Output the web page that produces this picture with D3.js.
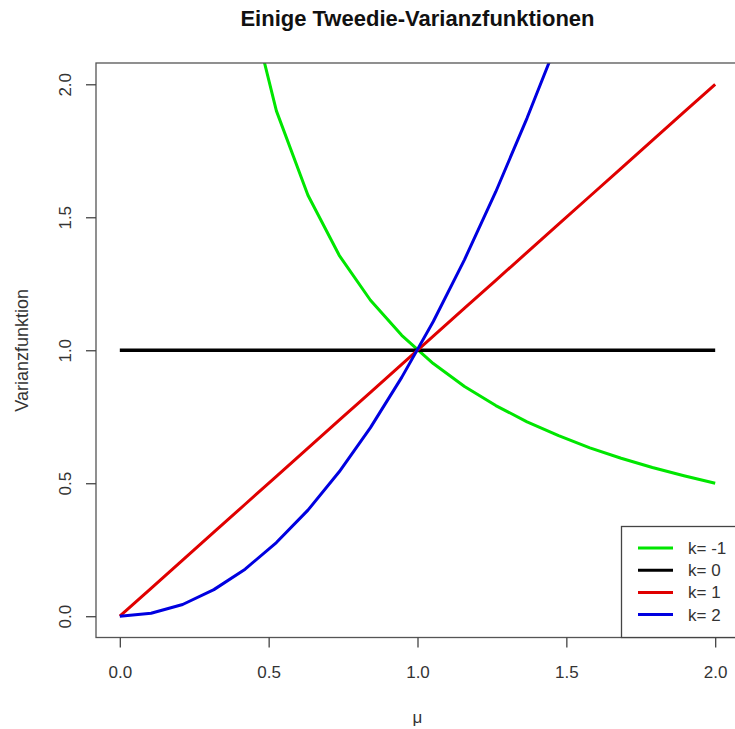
<!DOCTYPE html>
<html><head><meta charset="utf-8">
<script src="https://cdn.jsdelivr.net/npm/d3@7"></script>
<style>body{margin:0;background:#fff}svg{display:block}</style>
</head><body>
<svg id="chart" width="735" height="729"></svg>
<script>
const title = "Einige Tweedie-Varianzfunktionen";
const xLabel = "μ";
const yLabel = "Varianzfunktion";
const xTicks = [0.0, 0.5, 1.0, 1.5, 2.0];
const yTicks = [0.0, 0.5, 1.0, 1.5, 2.0];
const mu = [0, 0.105, 0.211, 0.316, 0.421, 0.526, 0.632, 0.737, 0.842, 0.947, 1.053, 1.158, 1.263, 1.368, 1.474, 1.579, 1.684, 1.789, 1.895, 2.0];
const vKm1 = [null, 9.5, 4.75, 3.167, 2.375, 1.9, 1.583, 1.357, 1.188, 1.056, 0.95, 0.864, 0.792, 0.731, 0.679, 0.633, 0.594, 0.559, 0.528, 0.5];
const vK0 = [1, 1, 1, 1, 1, 1, 1, 1, 1, 1, 1, 1, 1, 1, 1, 1, 1, 1, 1, 1];
const vK1 = [0, 0.105, 0.211, 0.316, 0.421, 0.526, 0.632, 0.737, 0.842, 0.947, 1.053, 1.158, 1.263, 1.368, 1.474, 1.579, 1.684, 1.789, 1.895, 2.0];
const vK2 = [0, 0.011, 0.044, 0.100, 0.177, 0.277, 0.399, 0.543, 0.709, 0.898, 1.108, 1.341, 1.596, 1.873, 2.172, 2.493, 2.837, 3.202, 3.590, 4.0];
const seriesNames = ["k= -1", "k= 0", "k= 1", "k= 2"];
const seriesColors = ["#00e600", "#000000", "#e00000", "#0000e0"];
const seriesValues = [vKm1, vK0, vK1, vK2];

const svg = d3.select("#chart");
const L = 96, R = 739, T = 63, B = 637.5;
const x = d3.scaleLinear().domain([-0.08, 2.08]).range([L, R]);
const y = d3.scaleLinear().domain([-0.08, 2.08]).range([B, T]);
const font = "Liberation Sans, Arial, sans-serif";

svg.append("defs").append("clipPath").attr("id", "clip")
  .append("rect").attr("x", L).attr("y", T).attr("width", R - L).attr("height", B - T);

const line = d3.line().defined(d => d[1] !== null).x(d => x(d[0])).y(d => y(d[1]));
const g = svg.append("g").attr("clip-path", "url(#clip)");
seriesValues.forEach((vals, i) => {
  g.append("path").datum(mu.map((m, j) => [m, vals[j]]))
    .attr("d", line).attr("fill", "none")
    .attr("stroke", seriesColors[i]).attr("stroke-width", i === 1 ? 3.5 : 3)
    .attr("stroke-linejoin", "round");
});

// frame
svg.append("rect").attr("x", L).attr("y", T).attr("width", R - L).attr("height", B - T)
  .attr("fill", "none").attr("stroke", "#555").attr("stroke-width", 1.3);

// x axis
const xa = svg.append("g").attr("transform", `translate(0,${B})`)
  .call(d3.axisBottom(x).tickValues(xTicks).tickFormat(d3.format(".1f")).tickSizeOuter(0).tickSizeInner(10).tickPadding(18));
xa.select(".domain").attr("stroke", "none");
xa.selectAll(".tick line").attr("stroke", "#444").attr("stroke-width", 1.3);
xa.selectAll(".tick text").attr("font-family", font).attr("font-size", 17).attr("fill", "#333");

// y axis
const ya = svg.append("g").attr("transform", `translate(${L},0)`)
  .call(d3.axisLeft(y).tickValues(yTicks).tickFormat(d3.format(".1f")).tickSizeOuter(0).tickSizeInner(10));
ya.select(".domain").attr("stroke", "none");
ya.selectAll(".tick line").attr("stroke", "#444").attr("stroke-width", 1.3);
ya.selectAll(".tick text").attr("font-family", font).attr("font-size", 17).attr("fill", "#333")
  .attr("text-anchor", "middle").attr("x", null)
  .attr("transform", "translate(-31,0) rotate(-90)").attr("dy", "0.35em");

// title & labels
svg.append("text").attr("x", (L + R) / 2).attr("y", 26).attr("text-anchor", "middle")
  .attr("font-family", font).attr("font-weight", "bold").attr("font-size", 22).attr("fill", "#111").text(title);
svg.append("text").attr("x", (L + R) / 2).attr("y", 723).attr("text-anchor", "middle")
  .attr("font-family", font).attr("font-size", 17).attr("fill", "#333").text(xLabel);
svg.append("text").attr("transform", `translate(28,${(T + B) / 2}) rotate(-90)`).attr("text-anchor", "middle")
  .attr("font-family", font).attr("font-size", 18).attr("fill", "#333").text(yLabel);

// legend
const lg = svg.append("g");
lg.append("rect").attr("x", 621.5).attr("y", 526.5).attr("width", 130).attr("height", B - 526.5)
  .attr("fill", "#fff").attr("stroke", "#444").attr("stroke-width", 1.3);
seriesNames.forEach((n, i) => {
  const yy = 548 + i * 22.2;
  lg.append("line").attr("x1", 638).attr("x2", 673).attr("y1", yy).attr("y2", yy)
    .attr("stroke", seriesColors[i]).attr("stroke-width", 3);
  lg.append("text").attr("x", 688).attr("y", yy).attr("dy", "0.35em")
    .attr("font-family", font).attr("font-size", 17).attr("fill", "#333").text(n);
});
</script>
</body></html>
